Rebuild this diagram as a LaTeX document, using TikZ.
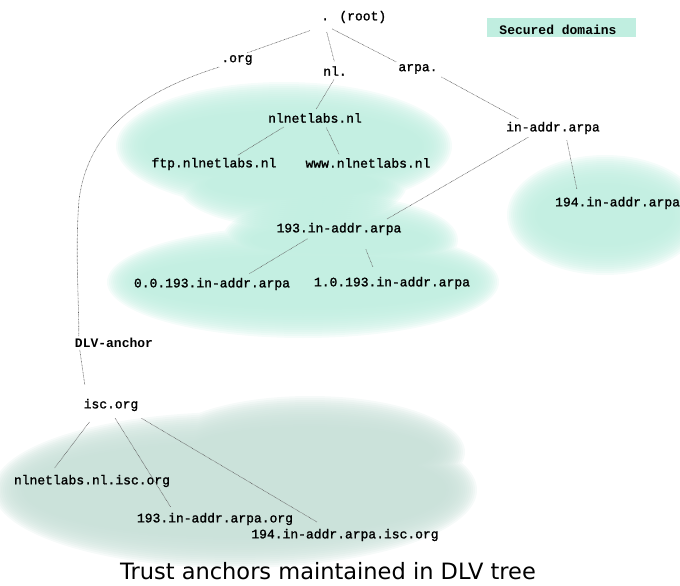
\documentclass[tikz,border=0pt]{standalone}
\usepackage{fontspec}
\setmonofont{Liberation Mono}
\newfontfamily\medmono{Liberation Mono}[FakeBold=1.4]
\newfontfamily\capfont{DejaVu Sans}
\definecolor{mint}{RGB}{192,238,224}
\definecolor{sage}{RGB}{200,224,216}
\definecolor{edgegray}{RGB}{100,100,100}
\newcommand\softfill[2]{\foreach \d in {30,28,...,0}{\fill[#1,opacity=0.16] #2;}}
\begin{document}
\begin{tikzpicture}[x=1pt,y=-1pt,
  lbl/.style={font=\medmono\fontsize{13}{15}\selectfont, inner sep=2pt},
  blbl/.style={lbl, font=\ttfamily\bfseries\fontsize{13}{15}\selectfont},
  edge/.style={draw=edgegray, line width=0.6pt, dash pattern=on 0.7pt off 0.7pt}]
\useasboundingbox (0,0) rectangle (680,586);
\clip (0,0) rectangle (680,586);
% soft blobs
\softfill{mint}{(284,146) ellipse [x radius=138pt+\d pt, y radius=34pt+\d pt] (292,184) ellipse [x radius=85pt+\d pt, y radius=14pt+\d pt]}
\softfill{mint}{(303,282) ellipse [x radius=166pt+\d pt, y radius=26pt+\d pt] (340,240) ellipse [x radius=88pt+\d pt, y radius=14pt+\d pt]}
\softfill{mint}{(605,215) ellipse [x radius=68pt+\d pt, y radius=30pt+\d pt]}
\softfill{sage}{(235,490) ellipse [x radius=212pt+\d pt, y radius=48pt+\d pt] (310,452) ellipse [x radius=125pt+\d pt, y radius=26pt+\d pt]}
% legend
\fill[mint] (487,18) rectangle (636,37);
\node[blbl] (legend) at (558,30) {Secured domains};
% nodes
\node[lbl, anchor=west] (root) at (319,17) {. (root)};
\node[lbl] (org) at (237,60) {.org};
\node[lbl] (nl) at (335,71) {nl.};
\node[lbl] (arpa) at (418,69) {arpa.};
\node[lbl] (nlnet) at (315,118) {nlnetlabs.nl};
\node[lbl] (inaddr) at (553,128) {in-addr.arpa};
\node[lbl] (ftp) at (214,164) {ftp.nlnetlabs.nl};
\node[lbl] (www) at (368,163) {www.nlnetlabs.nl};
\node[lbl, anchor=west] (n194) at (553,203) {194.in-addr.arpa};
\node[lbl] (n193) at (339,229) {193.in-addr.arpa};
\node[lbl] (n0) at (212,284) {0.0.193.in-addr.arpa};
\node[lbl] (n1) at (392,283) {1.0.193.in-addr.arpa};
\node[blbl] (dlv) at (114,343) {DLV-anchor};
\node[lbl] (isc) at (111,405) {isc.org};
\node[lbl] (nlisc) at (92,481) {nlnetlabs.nl.isc.org};
\node[lbl] (a193) at (215,519) {193.in-addr.arpa.org};
\node[lbl] (a194) at (345,535) {194.in-addr.arpa.isc.org};
\node[font=\capfont\fontsize{22.5}{27}\selectfont, inner sep=0pt] (caption) at (328,571) {Trust anchors maintained in DLV tree};
% connectors
\draw[edge, shorten <=16pt] ([xshift=6pt]root.south west) -- ([xshift=-8pt]org.north east);
\draw[edge, shorten <=7pt, shorten >=3pt] ([xshift=6pt]root.south west) -- (nl.north);
\draw[edge, shorten <=8pt] ([xshift=6pt]root.south west) -- (arpa.north west);
\draw[edge] (org.south west) .. controls (140,92) and (88,130) .. (79,200)
  .. controls (75,250) and (79,300) .. ([xshift=6pt]dlv.north west);
\draw[edge, shorten >=12pt] ([xshift=7pt]dlv.south west) -- ([xshift=5pt]isc.north west);
\draw[edge, shorten <=2pt, shorten >=2pt] (nl.south) -- (nlnet.north);
\draw[edge, shorten <=2pt, shorten >=2pt] (arpa.south east) -- ([xshift=16pt]inaddr.north west);
\draw[edge, shorten <=4pt, shorten >=1pt] ([xshift=-28pt]nlnet.south) -- ([xshift=23pt]ftp.north);
\draw[edge, shorten <=3pt, shorten >=2pt] ([xshift=10pt]nlnet.south) -- ([xshift=-28pt]www.north);
\draw[edge, shorten <=2pt, shorten >=3pt] ([xshift=-23pt]inaddr.south) -- ([xshift=45pt]n193.north);
\draw[edge, shorten <=4pt, shorten >=6pt] ([xshift=13pt]inaddr.south) -- ([xshift=25pt]n194.north west);
\draw[edge, shorten <=3pt, shorten >=4pt] ([xshift=-29pt]n193.south) -- ([xshift=34pt]n0.north);
\draw[edge, shorten <=13pt, shorten >=8pt] ([xshift=22pt]n193.south) -- ([xshift=-16pt]n1.north);
\draw[edge, shorten <=11pt, shorten >=6pt] ([xshift=-15pt]isc.south) -- ([xshift=-41pt]nlisc.north);
\draw[edge, shorten <=6pt, shorten >=4pt] ([xshift=1pt]isc.south) -- ([xshift=-42pt]a193.north);
\draw[edge, shorten <=10pt, shorten >=9pt] ([xshift=22pt]isc.south) -- ([xshift=-20pt]a194.north);
\end{tikzpicture}
\end{document}
